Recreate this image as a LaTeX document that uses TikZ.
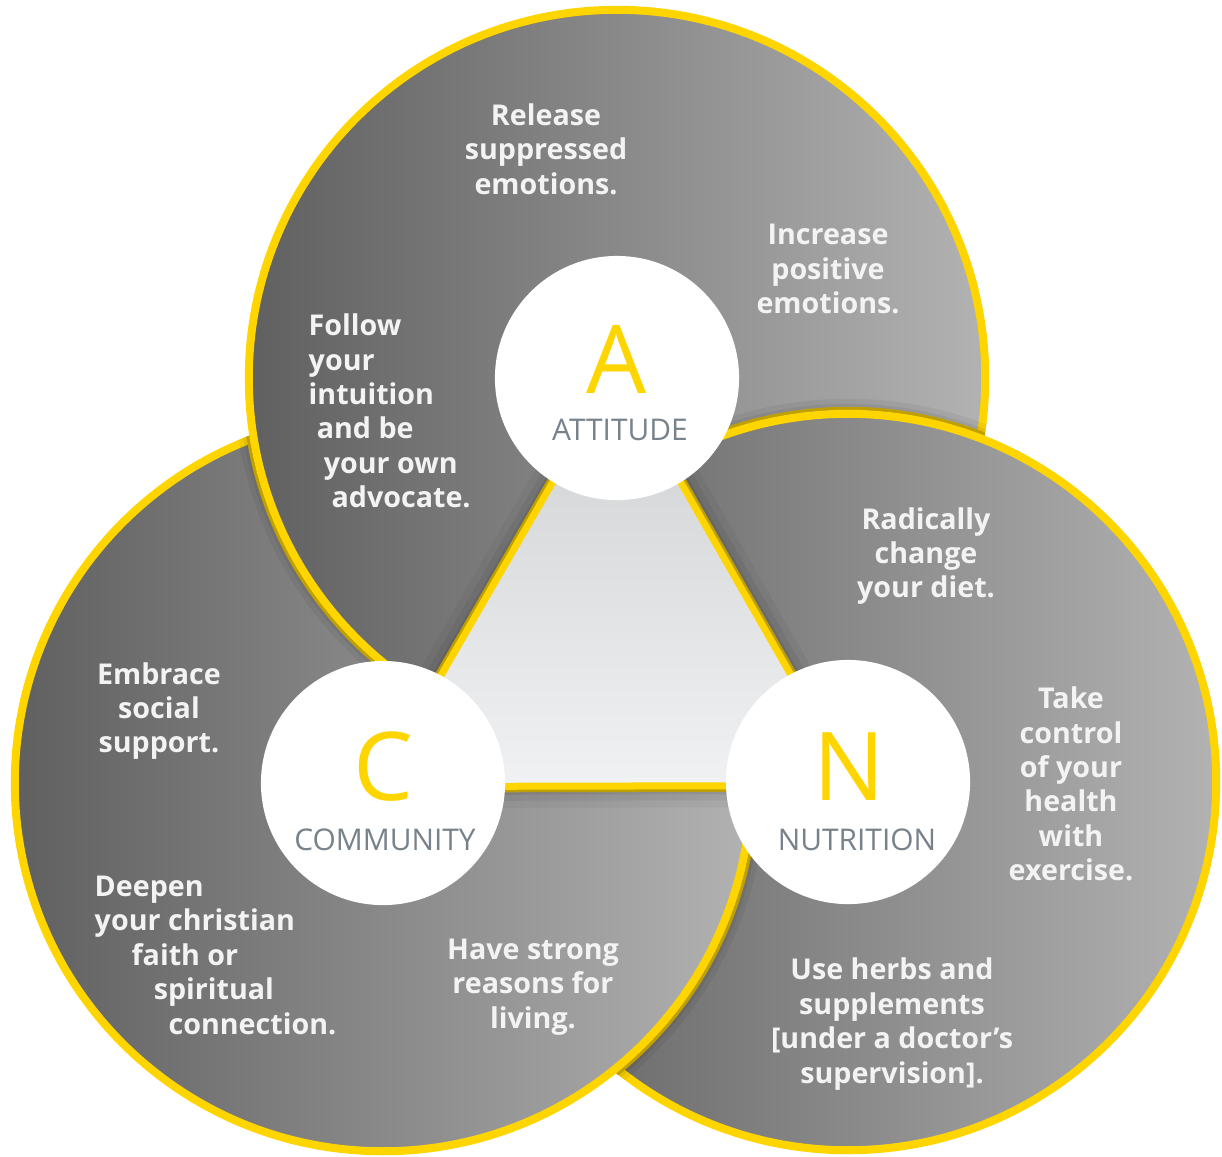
\documentclass[tikz,border=0pt]{standalone}
\usepackage{fontspec}
\setmainfont{Open Sans}
\definecolor{ringyellow}{HTML}{FFD500}
\definecolor{ringshade}{HTML}{BFA000}
\definecolor{discdark}{HTML}{606060}
\definecolor{disclight}{HTML}{B2B2B2}
\definecolor{tridark}{HTML}{CFD0D1}
\definecolor{trilight}{HTML}{F0F1F3}
\definecolor{labelgray}{HTML}{78828B}
\definecolor{tipwhite}{HTML}{F3F3F3}
\begin{document}
\begin{tikzpicture}[x=0.01cm,y=-0.01cm,
    disc/.style={left color=discdark,right color=disclight},
    ring/.style={draw=ringyellow,line width=0.08cm},
    hub/.style={circle,fill=white,minimum size=2.44cm,inner sep=0pt},
    letter/.style={text=ringyellow,inner sep=0pt,font=\fontsize{27}{27}\selectfont},
    hubname/.style={text=labelgray,inner sep=0pt,font=\fontsize{8.5}{10}\selectfont},
    advice/.style={text=tipwhite,inner sep=0pt,align=center,font=\bfseries\fontsize{8.15}{9.8}\selectfont}]
  \useasboundingbox (0,0) rectangle (1222,1156);
  \coordinate (A) at (617,378);
  \coordinate (C) at (383,783);
  \coordinate (N) at (848,782);

  \shade[disc] (C) circle (3.68cm);
  \draw[ring] (C) circle (3.68cm);

  \begin{scope}
    \clip (C) circle (3.72cm);
    \foreach \w/\o in {0.3/0.05,0.2/0.06,0.12/0.08}
      \draw[black,opacity=\o,line width=\w cm] (A) circle (3.68cm);
    \draw[ringshade,line width=0.03cm] (A) circle (3.735cm);
  \end{scope}
  \shade[disc] (A) circle (3.68cm);
  \draw[ring] (A) circle (3.68cm);

  \begin{scope}
    \clip (A) circle (3.72cm);
    \foreach \w/\o in {0.3/0.05,0.2/0.06,0.12/0.08}
      \draw[black,opacity=\o,line width=\w cm] (N) circle (3.68cm);
    \draw[ringshade,line width=0.03cm] (N) circle (3.735cm);
  \end{scope}
  \shade[disc] (N) circle (3.68cm);
  \draw[ring] (N) circle (3.68cm);

  \begin{scope}
    \clip (N) circle (3.72cm);
    \foreach \w/\o in {0.3/0.05,0.2/0.06,0.12/0.08}
      \draw[black,opacity=\o,line width=\w cm] (C) circle (3.68cm);
    \draw[ringshade,line width=0.03cm] (C) circle (3.735cm);
  \end{scope}
  \begin{scope}
    \clip (N) circle (3.78cm);
    \shade[disc] (C) circle (3.68cm);
    \draw[ring] (C) circle (3.68cm);
  \end{scope}

  \foreach \w/\o in {0.5/0.04,0.36/0.05,0.24/0.07}
    \draw[black,opacity=\o,line width=\w cm] (A) -- (C) -- (N) -- cycle;
  \draw[ringshade,line width=0.19cm] (A) -- (C) -- (N) -- cycle;
  \draw[ringyellow,line width=0.14cm] (A) -- (C) -- (N) -- cycle;
  \shade[top color=tridark,middle color=trilight,bottom color=trilight] (A) -- (C) -- (N) -- cycle;

  \node[hub] (attitudeHub) at (A) {};
  \node[hub] (communityHub) at (C) {};
  \node[hub] (nutritionHub) at (N) {};

  \node[letter] (letterA) at (617,359) {A};
  \node[hubname] (nameA) at (620,430) {ATTITUDE};
  \node[letter] (letterC) at (383,767) {C};
  \node[hubname] (nameC) at (385,840) {COMMUNITY};
  \node[letter] (letterN) at (849,767) {N};
  \node[hubname] (nameN) at (857,840) {NUTRITION};

  \node[advice] (release) at (546,149) {Release\\suppressed\\emotions.};
  \node[advice] (increase) at (828,269) {Increase\\positive\\emotions.};
  \node[advice,align=left,anchor=west] (follow) at (308,411)
    {Follow\\your\\intuition\\\hspace{2.3pt}and be\\\hspace{4.3pt}your own\\\hspace{6.5pt}advocate.};
  \node[advice] (radically) at (926,556) {Radically\\change\\your diet.};
  \node[advice] (control) at (1071,784) {Take\\control\\of your\\health\\with\\exercise.};
  \node[advice] (herbs) at (892,1024) {Use herbs and\\supplements\\{[under a doctor’s}\\supervision].};
  \node[advice] (embrace) at (159,711) {Embrace\\social\\support.};
  \node[advice,align=left,anchor=west] (deepen) at (94,955)
    {Deepen\\your christian\\\hspace{10.5pt}faith or\\\hspace{16.8pt}spiritual\\\hspace{21pt}connection.};
  \node[advice] (strong) at (533,987) {Have strong\\reasons for\\living.};
\end{tikzpicture}
\end{document}
